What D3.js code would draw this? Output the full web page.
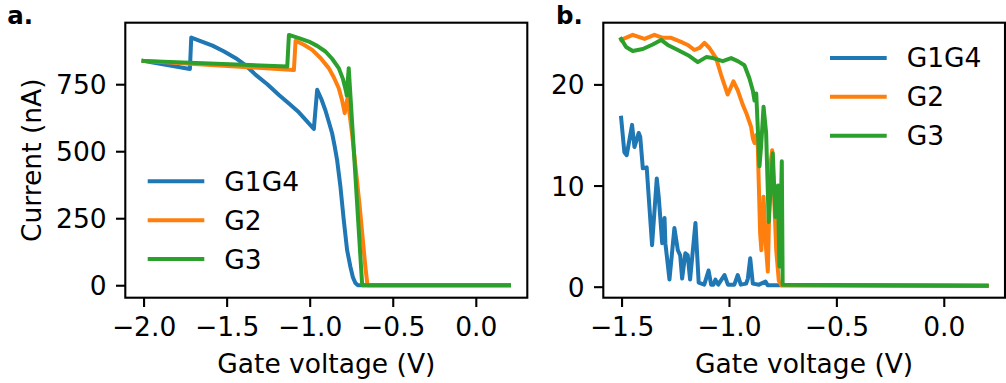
<!DOCTYPE html>
<html>
<head>
<meta charset="utf-8">
<script src="https://cdn.jsdelivr.net/npm/d3@7"></script>
<style>
  html, body { margin: 0; padding: 0; background: #fff; }
  svg { display: block; }
  text { font-family: "DejaVu Sans", sans-serif; fill: #000; }
</style>
</head>
<body>
<svg id="chart" width="1006" height="383"></svg>
<script>
// ---------- DATA ----------
const seriesNames = ["G1G4", "G2", "G3"];
const colors = ["#1f77b4", "#ff7f0e", "#2ca02c"];

const xTicksA = [-2.0, -1.5, -1.0, -0.5, 0.0];
const yTicksA = [0, 250, 500, 750];
const xTicksB = [-1.5, -1.0, -0.5, 0.0];
const yTicksB = [0, 10, 20];

// Panel a: [gate voltage (V), current (nA)]
const aG1G4 = [[-2.0,837],[-1.721,807],[-1.713,924],[-1.585,894],[-1.515,872],[-1.445,847],[-1.385,820],
  [-1.325,785],[-1.255,750],[-1.185,710],[-1.125,678],[-1.065,645],[-1.02,614],[-0.975,583],[-0.955,729],
  [-0.93,695],[-0.905,652],[-0.885,610],[-0.865,567],[-0.85,520],[-0.835,467],[-0.815,368],[-0.795,244],
  [-0.775,132],[-0.755,69],[-0.74,30],[-0.725,8],[-0.71,0],[0.2,0]];
const aG2 = [[-2.0,837],[-1.095,803],[-1.085,912],[-1.035,897],[-0.985,878],[-0.935,848],[-0.885,810],
  [-0.855,776],[-0.825,735],[-0.805,690],[-0.789,642],[-0.772,700],[-0.744,560],[-0.70,300],[-0.665,70],
  [-0.652,0],[0.2,0]];
const aG3 = [[-2.0,837],[-1.135,816],[-1.125,934],[-1.065,922],[-1.005,909],[-0.955,893],[-0.905,872],
  [-0.865,845],[-0.825,810],[-0.80,770],[-0.781,723],[-0.777,708],[-0.765,810],[-0.725,410],[-0.684,0],[0.2,0]];

// Panel b: [gate voltage (V), current (nA)]
const bG1G4 = [[-1.502,16.7],[-1.487,13.3],[-1.476,13.0],[-1.451,16.0],[-1.44,13.8],[-1.42,15.2],[-1.413,14.8],
  [-1.401,11.7],[-1.383,11.8],[-1.358,4.1],[-1.336,10.7],[-1.327,8.9],[-1.311,4.3],[-1.3,6.8],[-1.296,4.3],
  [-1.277,0.7],[-1.254,5.8],[-1.238,3.6],[-1.227,3.1],[-1.218,0.8],[-1.203,3.3],[-1.192,3.1],
  [-1.181,0.7],[-1.156,6.3],[-1.141,0.4],[-1.115,0.2],[-1.095,1.6],[-1.083,0.2],[-1.072,0.2],[-1.063,0.7],
  [-1.05,0.2],[-1.021,1.15],[-1.005,0.2],[-0.975,0.2],[-0.959,1.15],[-0.945,0.2],[-0.92,0.3],[-0.912,0.8],
  [-0.901,2.8],[-0.889,0.3],[-0.86,0.2],[-0.83,0.5],[-0.82,0.15],[-0.76,0.15],[0.2,0.1]];
const bG2 = [[-1.502,24.4],[-1.448,24.9],[-1.393,24.5],[-1.347,24.9],[-1.308,24.6],[-1.269,24.6],[-1.223,24.2],
  [-1.192,23.9],[-1.161,23.4],[-1.137,23.6],[-1.114,24.1],[-1.091,23.6],[-1.06,22.6],[-1.036,20.9],[-1.006,19.0],
  [-0.979,20.3],[-0.959,19.4],[-0.936,18.0],[-0.92,17.2],[-0.897,15.8],[-0.889,14.7],[-0.881,14.2],[-0.873,15.0],
  [-0.866,14.0],[-0.855,5.3],[-0.849,3.6],[-0.839,8.9],[-0.828,4.0],[-0.819,1.5],[-0.808,11.9],[-0.799,13.5],
  [-0.79,9.0],[-0.78,3.6],[-0.768,0.6],[-0.757,0.15],[0.2,0.1]];
const bG3 = [[-1.502,24.5],[-1.479,23.7],[-1.448,23.3],[-1.401,23.5],[-1.355,23.95],[-1.316,24.4],[-1.285,23.9],
  [-1.238,23.4],[-1.184,22.8],[-1.145,22.2],[-1.106,22.7],[-1.075,22.6],[-1.029,22.3],[-0.99,22.6],[-0.959,22.3],
  [-0.928,21.9],[-0.905,20.6],[-0.889,19.4],[-0.881,18.4],[-0.873,19.1],[-0.858,11.9],[-0.85,14.0],[-0.839,17.8],
  [-0.827,15.2],[-0.815,6.4],[-0.808,9.0],[-0.796,13.2],[-0.784,6.9],[-0.772,10.0],[-0.765,2.0],[-0.754,12.4],
  [-0.75,0.2],[0.2,0.1]];

// ---------- DRAW ----------
const svg = d3.select("#chart");
const FS = 26.5;
const LW = 4;
const SPINE = 2.1;
const TICK = 9.3;
const PAD = 9.3;
const fmt1 = d => d3.format(".1f")(d).replace("-", "\u2212");

function panel(opts) {
  const { left, right, top, bottom, xDom, yDom, xTicks, yTicks, yFmt, series, legend, label, labelX, showYLabel, id } = opts;
  const x = d3.scaleLinear().domain(xDom).range([left, right]);
  const y = d3.scaleLinear().domain(yDom).range([bottom, top]);
  const g = svg.append("g");

  g.append("clipPath").attr("id", id).append("rect")
    .attr("x", left).attr("y", top).attr("width", right - left).attr("height", bottom - top);

  const line = d3.line().x(d => x(d[0])).y(d => y(d[1]));
  const lines = g.append("g").attr("clip-path", `url(#${id})`);
  series.forEach((s, i) => {
    lines.append("path").datum(s).attr("d", line)
      .attr("fill", "none").attr("stroke", colors[i]).attr("stroke-width", LW)
      .attr("stroke-linejoin", "round").attr("stroke-linecap", "square");
  });

  const xAxis = d3.axisBottom(x).tickValues(xTicks).tickFormat(fmt1).tickSize(TICK).tickPadding(PAD);
  const gx = g.append("g").attr("transform", `translate(0,${bottom})`).call(xAxis);
  const yAxis = d3.axisLeft(y).tickValues(yTicks).tickFormat(yFmt).tickSize(TICK).tickPadding(PAD);
  const gy = g.append("g").attr("transform", `translate(${left},0)`).call(yAxis);
  [gx, gy].forEach(ax => {
    ax.select(".domain").remove();
    ax.selectAll(".tick line").attr("stroke", "#000").attr("stroke-width", SPINE);
    ax.selectAll(".tick text").attr("font-size", FS).attr("font-family", "DejaVu Sans").attr("fill", "#000");
  });
  gx.selectAll(".tick text").attr("dy", null).attr("y", TICK + PAD).attr("dominant-baseline", "hanging");
  gy.selectAll(".tick text").attr("dy", "0.36em");

  g.append("rect").attr("x", left).attr("y", top).attr("width", right - left).attr("height", bottom - top)
    .attr("fill", "none").attr("stroke", "#000").attr("stroke-width", SPINE);

  g.append("text").attr("x", (left + right) / 2).attr("y", 373).attr("text-anchor", "middle")
    .attr("font-size", FS).text("Gate voltage (V)");
  if (showYLabel) {
    g.append("text").attr("transform", `translate(41,${(top + bottom) / 2}) rotate(-90)`)
      .attr("text-anchor", "middle").attr("font-size", FS).text("Current (nA)");
  }
  g.append("text").attr("x", labelX).attr("y", 24).attr("font-size", 24.5)
    .attr("font-family", "Liberation Sans, Arial, sans-serif").attr("font-weight", "bold").text(label);

  seriesNames.forEach((n, i) => {
    const ly = legend.y0 + i * legend.dy;
    g.append("line").attr("x1", legend.x0).attr("x2", legend.x1).attr("y1", ly).attr("y2", ly)
      .attr("stroke", colors[i]).attr("stroke-width", LW);
    g.append("text").attr("x", legend.tx).attr("y", ly + 9.4).attr("font-size", FS).text(n);
  });
}

panel({
  id: "clipA", left: 125.3, right: 527.3, top: 22.7, bottom: 297.7,
  xDom: [-2.11, 0.31], yDom: [-46.5, 979.5],
  xTicks: xTicksA, yTicks: yTicksA, yFmt: d3.format("d"),
  series: [aG1G4, aG2, aG3],
  legend: { x0: 147.7, x1: 204.3, y0: 181.3, dy: 38.9, tx: 224.3 },
  label: "a.", labelX: 7.3, showYLabel: true
});
panel({
  id: "clipB", left: 603.3, right: 1005, top: 22.7, bottom: 297.7,
  xDom: [-1.585, 0.285], yDom: [-1.09, 26.1],
  xTicks: xTicksB, yTicks: yTicksB, yFmt: d3.format("d"),
  series: [bG1G4, bG2, bG3],
  legend: { x0: 830, x1: 886.7, y0: 58, dy: 38.85, tx: 906.7 },
  label: "b.", labelX: 556, showYLabel: false
});
</script>
</body>
</html>
